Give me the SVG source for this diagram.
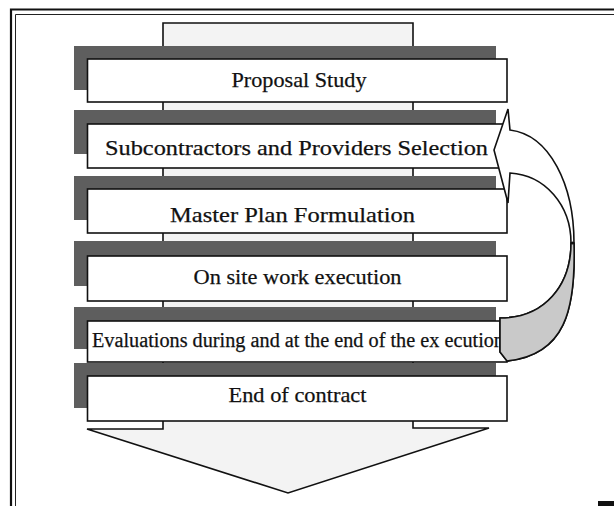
<svg xmlns="http://www.w3.org/2000/svg" width="614" height="506" viewBox="0 0 614 506">
  <defs>
    <style>
      .frame-thick { stroke: #111; stroke-width: 2.2; fill: none; }
      .frame-thin { stroke: #222; stroke-width: 1; fill: none; }
      .backbone { fill: #f3f3f3; stroke: #111; stroke-width: 1.6; stroke-linejoin: miter; }
      .shadow { fill: #5e5e5e; }
      .box { fill: #ffffff; stroke: #111; stroke-width: 1.6; }
      .label { font-family: "Liberation Serif", "Times New Roman", serif; font-size: 22px; fill: #111; stroke: #111; stroke-width: 0.25; text-anchor: middle; }
      .label-small { font-family: "Liberation Serif", "Times New Roman", serif; font-size: 20px; fill: #111; stroke: #111; stroke-width: 0.25; }
      .band { fill: #ffffff; stroke: #111; stroke-width: 1.6; stroke-linejoin: miter; }
      .band-shade { fill: #c9c9c9; stroke: #111; stroke-width: 1.6; }
    </style>
  </defs>

  <rect x="0" y="0" width="614" height="506" fill="#ffffff"/>

  <!-- outer double frame -->
  <g id="frame">
    <path class="frame-thick" d="M11,506 L11,9.5 L614,9.5"/>
    <path class="frame-thin" d="M15.5,506 L15.5,14.5 L614,14.5"/>
    <rect x="598" y="501" width="16" height="5" fill="#111"/>
  </g>

  <!-- background flow arrow -->
  <g id="backbone-arrow">
    <path class="backbone" d="M163,23 L413,23 L413,428 L489,428 L288,493 L87,429 L163,429 Z"/>
  </g>

  <g id="node-proposal">
    <rect class="shadow" x="74" y="46" width="422" height="44"/>
    <rect class="box" x="87.5" y="59" width="419.5" height="43"/>
    <text class="label" x="299" y="87" textLength="135" lengthAdjust="spacingAndGlyphs">Proposal Study</text>
  </g>

  <g id="node-subcontractors">
    <rect class="shadow" x="74" y="110" width="422" height="44"/>
    <rect class="box" x="87.5" y="124" width="419.5" height="44"/>
    <text class="label" x="296.5" y="155" textLength="383" lengthAdjust="spacingAndGlyphs">Subcontractors and Providers Selection</text>
  </g>

  <g id="node-masterplan">
    <rect class="shadow" x="74" y="176" width="422" height="44"/>
    <rect class="box" x="87.5" y="189" width="419.5" height="44"/>
    <text class="label" x="292.5" y="221.5" textLength="245" lengthAdjust="spacingAndGlyphs">Master Plan Formulation</text>
  </g>

  <g id="node-onsite">
    <rect class="shadow" x="74" y="241" width="422" height="45"/>
    <rect class="box" x="87.5" y="256" width="419.5" height="45"/>
    <text class="label" x="297.5" y="283.5" textLength="208" lengthAdjust="spacingAndGlyphs">On site work execution</text>
  </g>

  <g id="node-evaluations">
    <rect class="shadow" x="74" y="307" width="422" height="42"/>
    <rect class="box" x="87.5" y="321" width="419.5" height="41"/>
    <text class="label-small" x="92" y="346.5" textLength="412" lengthAdjust="spacingAndGlyphs">Evaluations during and at the end of the ex ecution</text>
  </g>

  <g id="node-endcontract">
    <rect class="shadow" x="74" y="363" width="422" height="45"/>
    <rect class="box" x="87.5" y="376" width="419.5" height="45"/>
    <text class="label" x="297.5" y="402" textLength="138" lengthAdjust="spacingAndGlyphs">End of contract</text>
  </g>

  <!-- feedback connector: curved arrow from Evaluations back to Subcontractors -->
  <g id="connectors">
    <path class="band" d="M508,109 L494,150 L508,203 L510,173 C545,175 571,205 571,243 C571,285 545,318 500,318 L500,352 L507,361 C565,355 576,310 574,243 C574,185 550,135 510,130 Z"/>
    <path class="band-shade" d="M571,243 C571,285 545,318 500,318 L500,352 L507,361 C565,355 576,310 574,243 Z"/>
    <circle cx="572.5" cy="243" r="1.6" fill="#111"/>
  </g>
</svg>
